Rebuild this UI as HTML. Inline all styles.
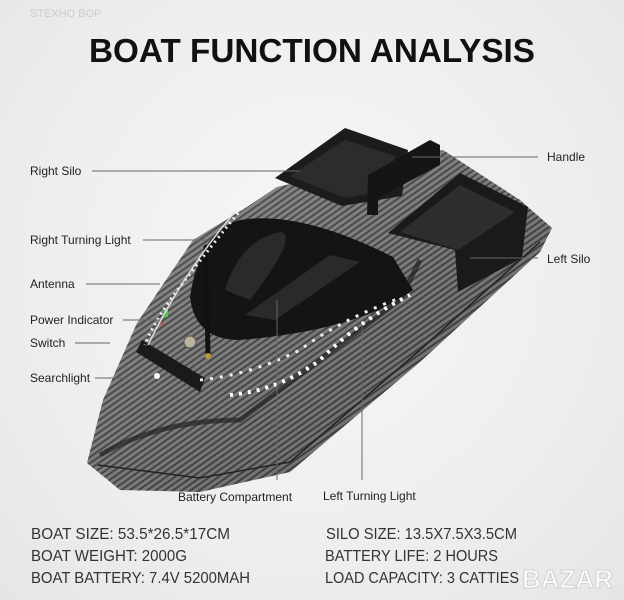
<!DOCTYPE html>
<html><head><meta charset="utf-8"><style>
html,body{margin:0;padding:0;}
body{width:624px;height:600px;overflow:hidden;background:radial-gradient(ellipse at 50% 45%,#f7f7f6 0%,#eeeeec 60%,#e6e6e4 100%);}
svg{display:block}
</style></head><body>
<svg width="624" height="600" viewBox="0 0 624 600" xmlns="http://www.w3.org/2000/svg" font-family="Liberation Sans, sans-serif">
<defs>
<pattern id="cf" width="5" height="5" patternUnits="userSpaceOnUse" patternTransform="rotate(-35)">
<rect width="5" height="5" fill="#7a7a7a"/><rect width="5" height="2" fill="#3a3a3a"/>
</pattern>
<linearGradient id="sh" x1="0" y1="0" x2="1" y2="1"><stop offset="0" stop-color="#fff" stop-opacity="0.15"/><stop offset="1" stop-color="#000" stop-opacity="0.2"/></linearGradient>
</defs>
<text x="312" y="62" text-anchor="middle" font-size="33" font-weight="bold" fill="#111" textLength="446" lengthAdjust="spacingAndGlyphs">BOAT FUNCTION ANALYSIS</text>
<text x="30" y="17" font-size="11" fill="#ccc">STEXHO BOP</text>
<polygon points="87,463 103,400 137,323 193,240 247,207 277,187 443,150 520,200 552,228 540,252 420,362 290,472 200,492 120,490" fill="url(#cf)"/>
<polygon points="87,463 103,400 137,323 193,240 247,207 277,187 443,150 520,200 552,228 540,252 420,362 290,472 200,492 120,490" fill="url(#sh)"/>
<path d="M98,465 L200,478 L290,462 L420,350 L540,242" stroke="#222" stroke-width="1.5" fill="none"/>
<path d="M100,455 Q160,420 240,420 Q320,360 400,300 L420,260" stroke="#222" stroke-width="5" fill="none" opacity="0.7"/>
<polygon points="275,178 345,128 408,150 402,196 342,206" fill="#1c1c1c"/>
<polygon points="290,176 345,140 395,156 390,190 345,198" fill="#2c2c2c"/>
<polygon points="388,233 460,173 528,207 522,258 458,292 455,250" fill="#1a1a1a"/>
<polygon points="400,232 460,185 515,212 458,250" fill="#2e2e2e"/>
<path d="M367,215 L368,175 L430,140 L440,145 L440,165 L378,198 L378,215Z" fill="#151515"/>
<path d="M190,297 Q200,230 240,220 Q300,210 393,257 L413,290 Q360,330 240,340 Q195,340 190,297Z" fill="#141414"/>
<path d="M225,290 Q240,240 280,232 Q300,235 250,300Z" fill="#2a2a2a"/>
<path d="M245,315 L330,255 L360,262 L275,320Z" fill="#2a2a2a"/>
<line x1="208" y1="355" x2="206" y2="247" stroke="#111" stroke-width="5" stroke-linecap="round"/>
<circle cx="208" cy="356" r="3" fill="#b9973e"/>
<circle cx="190" cy="342" r="6" fill="#bcb39a" stroke="#555"/>
<rect x="164" y="309" width="4" height="8" fill="#4c4"/><rect x="161" y="322" width="3" height="3" fill="#e44"/>
<polygon points="136,352 142,340 205,378 200,392" fill="#1a1a1a"/>
<circle cx="157" cy="376" r="3" fill="#fff"/>
<path d="M242,208 Q200,260 170,300 Q150,330 145,345" stroke="#fff" stroke-width="3" fill="none" stroke-dasharray="2 4" opacity="0.9"/>
<path d="M235,212 Q185,270 148,345" stroke="#ddd" stroke-width="1.5" fill="none"/>
<path d="M230,395 Q280,390 320,360 Q360,320 410,295" stroke="#fff" stroke-width="4" fill="none" stroke-dasharray="3 6"/>
<path d="M200,380 Q250,375 300,350 Q340,320 400,298" stroke="#eee" stroke-width="3" fill="none" stroke-dasharray="3 7"/>
<g stroke="#666" stroke-width="1">
<line x1="92" y1="171" x2="300" y2="171"/>
<line x1="143" y1="240" x2="205" y2="240"/>
<line x1="86" y1="284" x2="160" y2="284"/>
<line x1="123" y1="320" x2="160" y2="320"/>
<line x1="75" y1="343" x2="110" y2="343"/>
<line x1="95" y1="378" x2="125" y2="378"/>
<line x1="412" y1="157" x2="538" y2="157"/>
<line x1="470" y1="258" x2="538" y2="258"/>
<line x1="277" y1="300" x2="277" y2="480"/>
<line x1="362" y1="325" x2="362" y2="480"/>
</g>
<g font-size="12" fill="#222">
<text x="30" y="175">Right Silo</text>
<text x="30" y="244">Right Turning Light</text>
<text x="30" y="288">Antenna</text>
<text x="30" y="324">Power Indicator</text>
<text x="30" y="347">Switch</text>
<text x="30" y="382">Searchlight</text>
<text x="547" y="161">Handle</text>
<text x="547" y="263">Left Silo</text>
<text x="178" y="501">Battery Compartment</text>
<text x="323" y="500">Left Turning Light</text>
</g>
<g font-size="16" fill="#333">
<text x="31" y="539" textLength="199" lengthAdjust="spacingAndGlyphs">BOAT SIZE: 53.5*26.5*17CM</text>
<text x="31" y="561" textLength="156" lengthAdjust="spacingAndGlyphs">BOAT WEIGHT: 2000G</text>
<text x="31" y="583" textLength="219" lengthAdjust="spacingAndGlyphs">BOAT BATTERY: 7.4V 5200MAH</text>
<text x="326" y="539" textLength="191" lengthAdjust="spacingAndGlyphs">SILO SIZE: 13.5X7.5X3.5CM</text>
<text x="325" y="561" textLength="173" lengthAdjust="spacingAndGlyphs">BATTERY LIFE: 2 HOURS</text>
<text x="325" y="583" textLength="194" lengthAdjust="spacingAndGlyphs">LOAD CAPACITY: 3 CATTIES</text>
</g>
<text x="522" y="588" font-size="26" font-weight="bold" fill="#fff" stroke="#ccc" stroke-width="1" opacity="0.8">BAZAR</text>
</svg>
</body></html>
